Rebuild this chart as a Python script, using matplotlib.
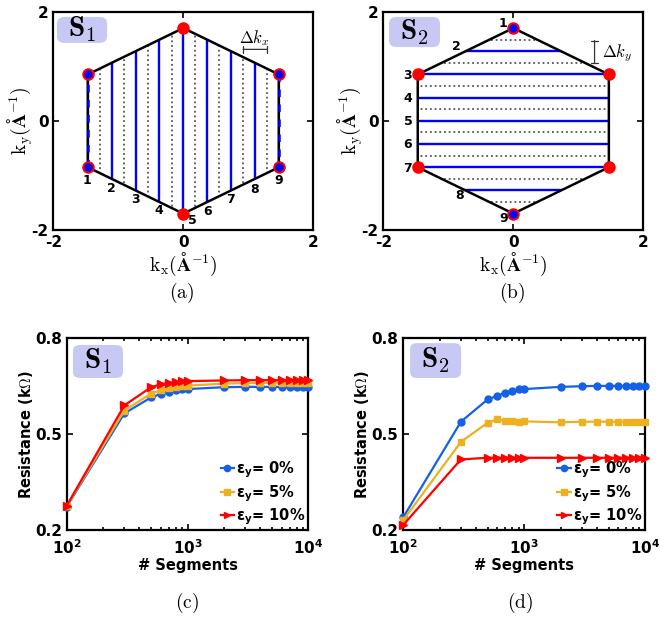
"""Brillouin-zone segment paths (S1 / S2) and resistance convergence vs # segments."""

import matplotlib

matplotlib.use("Agg")
import matplotlib.pyplot as plt
from matplotlib.patches import FancyBboxPatch, Polygon
from matplotlib.ticker import LogLocator, NullFormatter

plt.rcParams["font.family"] = "DejaVu Sans"
plt.rcParams["font.weight"] = "bold"
plt.rcParams["font.size"] = 11
plt.rcParams["axes.unicode_minus"] = False

# hexagonal BZ corners (1/Å)
HEX_KX = [0.0, 1.47, 1.47, 0.0, -1.47, -1.47]
HEX_KY = [1.70, 0.85, -0.85, -1.70, -0.85, 0.85]

# S1: vertical k-lines
S1_KX = [-1.47, -1.10, -0.735, -0.3675, 0.0, 0.3675, 0.735, 1.10, 1.47]
S1_MID_KX = [-1.2875, -0.92, -0.55, -0.18, 0.18, 0.55, 0.92, 1.2875]
# S2: horizontal k-lines
S2_KY = [1.70, 1.275, 0.85, 0.425, 0.0, -0.425, -0.85, -1.275, -1.70]
S2_MID_KY = [1.49, 1.06, 0.64, 0.21, -0.21, -0.64, -1.06, -1.49]

LINE_NUMBERS = ["1", "2", "3", "4", "5", "6", "7", "8", "9"]

# resistance (kOhm) vs number of segments
SEGMENTS = [100, 300, 500, 600, 700, 800, 900, 1000, 2000, 3000, 4000,
            5000, 6000, 7000, 8000, 9000, 10000]
R_S1 = {
    "0%": [0.273, 0.565, 0.615, 0.626, 0.633, 0.637, 0.640, 0.641, 0.647,
           0.648, 0.648, 0.648, 0.648, 0.648, 0.648, 0.648, 0.648],
    "5%": [0.275, 0.574, 0.627, 0.637, 0.644, 0.648, 0.651, 0.652, 0.658,
           0.660, 0.660, 0.661, 0.661, 0.661, 0.661, 0.661, 0.661],
    "10%": [0.276, 0.590, 0.647, 0.656, 0.660, 0.663, 0.665, 0.666, 0.668,
            0.669, 0.669, 0.669, 0.669, 0.669, 0.669, 0.669, 0.669],
}
R_S2 = {
    "0%": [0.240, 0.539, 0.609, 0.620, 0.630, 0.636, 0.640, 0.641, 0.648,
           0.650, 0.651, 0.651, 0.651, 0.651, 0.651, 0.651, 0.651],
    "5%": [0.231, 0.476, 0.536, 0.546, 0.541, 0.541, 0.537, 0.540, 0.537,
           0.539, 0.539, 0.539, 0.539, 0.539, 0.539, 0.539, 0.539],
    "10%": [0.216, 0.421, 0.426, 0.426, 0.426, 0.426, 0.426, 0.426, 0.426,
            0.426, 0.426, 0.426, 0.426, 0.426, 0.426, 0.426, 0.426],
}

STYLES = {
    "0%": dict(color="#1560e8", marker="o", ms=5),
    "5%": dict(color="#edb120", marker="s", ms=4.5),
    "10%": dict(color="#ff0000", marker=">", ms=6),
}

# label placement (data coords) for the numbered k-lines
S1_LABEL_POS = [(-1.48, -1.09), (-1.11, -1.24), (-0.74, -1.44), (-0.37, -1.65),
                (0.14, -1.83), (0.37, -1.67), (0.72, -1.45), (1.10, -1.26),
                (1.46, -1.09)]
S2_LABEL_POS = [(-0.16, 1.78), (-0.88, 1.36), (-1.62, 0.84), (-1.62, 0.41),
                (-1.62, -0.02), (-1.62, -0.43), (-1.62, -0.87), (-0.83, -1.36),
                (-0.15, -1.79)]

W, H = 660, 618


def rect(left, top, right, bottom):
    return [left / W, 1 - bottom / H, (right - left) / W, (bottom - top) / H]


def style_box(ax):
    for sp in ax.spines.values():
        sp.set_linewidth(1.6)
    ax.tick_params(which="both", direction="in", top=True, right=True,
                   labelsize=11, width=1.2)
    ax.tick_params(which="major", length=4)
    ax.tick_params(which="minor", length=2.5)


def s_badge(ax, sub, x0, y0, x1, y1):
    """Rounded lavender tag with S_n, box given in axes fraction."""
    box = FancyBboxPatch((x0, y0), x1 - x0, y1 - y0,
                         boxstyle="round,pad=0,rounding_size=0.03",
                         transform=ax.transAxes, facecolor="#c8c8f5",
                         edgecolor="none", zorder=8, clip_on=False)
    ax.add_patch(box)
    ax.text((x0 + x1) / 2, (y0 + y1) / 2, r"$\mathbf{S_%s}$" % sub,
            transform=ax.transAxes, ha="center", va="center", fontsize=21,
            math_fontfamily="cm", zorder=9)


def draw_bz(ax, kind):
    hexagon = Polygon(list(zip(HEX_KX, HEX_KY)), closed=True, fill=False,
                      edgecolor="black", linewidth=1.8, zorder=3)
    ax.add_patch(hexagon)
    if kind == "S1":
        for kx in S1_KX:
            ln = ax.axvline(kx, color="#0000ff", linewidth=1.7, zorder=2)
            ln.set_clip_path(hexagon)
        for kx in S1_MID_KX:
            ln = ax.axvline(kx, color="#555555", linewidth=1.3,
                            linestyle=(0, (1, 1.6)), zorder=1)
            ln.set_clip_path(hexagon)
        # vertical edges coincide with lines 1 and 9
        for i, j in ((1, 2), (4, 5)):
            ax.plot([HEX_KX[i], HEX_KX[j]], [HEX_KY[i], HEX_KY[j]],
                    color="#0000ff", linewidth=1.8, linestyle=(0, (3, 3)),
                    zorder=4)
        blue_idx = [1, 2, 4, 5]
        label_pos = S1_LABEL_POS
        s_badge(ax, "1", 0.014, 0.857, 0.207, 0.976)
    else:
        for ky in S2_KY:
            ln = ax.axhline(ky, color="#0000ff", linewidth=1.7, zorder=2)
            ln.set_clip_path(hexagon)
        for ky in S2_MID_KY:
            ln = ax.axhline(ky, color="#555555", linewidth=1.3,
                            linestyle=(0, (1, 1.6)), zorder=1)
            ln.set_clip_path(hexagon)
        blue_idx = [0, 3]
        label_pos = S2_LABEL_POS
        s_badge(ax, "2", 0.022, 0.838, 0.218, 0.976)

    ax.plot(HEX_KX, HEX_KY, "o", color="red", ms=8, zorder=5, clip_on=False)
    ax.plot([HEX_KX[i] for i in blue_idx], [HEX_KY[i] for i in blue_idx], "o",
            color="#0000ff", ms=5, zorder=6, clip_on=False)

    for lab, (x, y) in zip(LINE_NUMBERS, label_pos):
        ax.text(x, y, lab, ha="center", va="center", fontsize=9,
                fontweight="bold", zorder=7)

    ax.set_xlim(-2, 2)
    ax.set_ylim(-2, 2)
    ax.set_xticks([-2, 0, 2])
    ax.set_yticks([-2, 0, 2])
    ax.set_xlabel(r"$\mathrm{k_x(\AA^{-1})}$", fontsize=14,
                  math_fontfamily="cm", labelpad=1)
    ax.set_ylabel(r"$\mathrm{k_y(\AA^{-1})}$", fontsize=14,
                  math_fontfamily="cm", labelpad=-3)
    style_box(ax)


def draw_resistance(ax, data, sub, badge):
    for key, vals in data.items():
        st = STYLES[key]
        ax.plot(SEGMENTS, vals, color=st["color"], marker=st["marker"],
                ms=st["ms"], linewidth=1.6, clip_on=False, zorder=3,
                label=r"ε$_\mathbf{y}$= " + key)
    ax.set_xscale("log")
    ax.set_xlim(100, 10000)
    ax.set_ylim(0.2, 0.8)
    ax.set_yticks([0.2, 0.5, 0.8])
    ax.set_yticklabels(["0.2", "0.5", "0.8"])
    ax.xaxis.set_minor_locator(LogLocator(base=10, subs=range(2, 10)))
    ax.xaxis.set_minor_formatter(NullFormatter())
    ax.set_xlabel("# Segments", fontsize=10.5, fontweight="bold", labelpad=1)
    ax.set_ylabel(r"Resistance (k$\Omega$)", fontsize=10.5, fontweight="bold",
                  math_fontfamily="cm", labelpad=0)
    leg = ax.legend(loc="lower right", frameon=False, fontsize=10.5,
                    handlelength=0.9, handletextpad=0.15, labelspacing=0.2,
                    borderaxespad=0.05, borderpad=0.15)
    for h in leg.legend_handles:
        h.set_markersize(4.5)
    s_badge(ax, sub, *badge)
    style_box(ax)
    ax.tick_params(axis="x", which="major", pad=6)


fig = plt.figure(figsize=(6.6, 6.18), dpi=100)

ax_a = fig.add_axes(rect(53.3, 11.7, 313.3, 230))
ax_b = fig.add_axes(rect(383.3, 11.7, 643.3, 230))
ax_c = fig.add_axes(rect(66.7, 338.3, 308.3, 530))
ax_d = fig.add_axes(rect(403.3, 338.3, 645, 530))

draw_bz(ax_a, "S1")
draw_bz(ax_b, "S2")

ax_a.annotate("", xy=(0.92, 1.31), xytext=(1.2875, 1.31),
              arrowprops=dict(arrowstyle="|-|,widthA=0.25,widthB=0.25",
                              color="#333333", lw=0.9, shrinkA=0, shrinkB=0))
ax_a.text(1.10, 1.52, r"$\Delta k_x$", ha="center", va="center", fontsize=12,
          math_fontfamily="cm")
ax_b.annotate("", xy=(1.25, 1.06), xytext=(1.25, 1.47),
              arrowprops=dict(arrowstyle="|-|,widthA=0.25,widthB=0.25",
                              color="#333333", lw=0.9, shrinkA=0, shrinkB=0))
ax_b.text(1.60, 1.24, r"$\Delta k_y$", ha="center", va="center", fontsize=12,
          math_fontfamily="cm")

draw_resistance(ax_c, R_S1, "1", (0.026, 0.793, 0.233, 0.965))
draw_resistance(ax_d, R_S2, "2", (0.028, 0.793, 0.239, 0.975))

for label, x, y in (("(a)", 182, 293), ("(b)", 512, 293),
                    ("(c)", 187, 603), ("(d)", 520, 603)):
    fig.text(x / W, 1 - y / H, r"$\mathrm{%s}$" % label, ha="center",
             va="center", fontsize=14, math_fontfamily="cm")

fig.savefig("out.png", dpi=100)
